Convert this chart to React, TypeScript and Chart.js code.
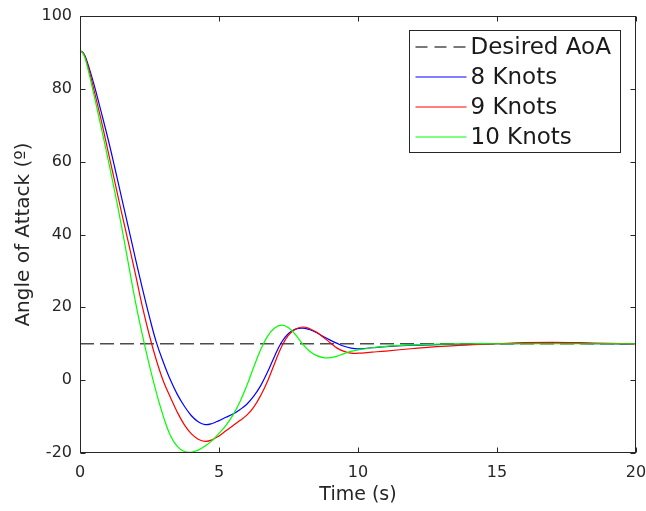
import { useEffect, useRef } from 'react';
import { Chart, registerables } from 'chart.js';

Chart.register(...registerables);

const timeS = [0, 0.125, 0.25, 0.5, 0.75, 1, 1.25, 1.5, 1.75, 2, 2.25, 2.5, 2.75, 3, 3.25, 3.5, 3.75, 4, 4.25, 4.5, 4.75, 5, 5.25, 5.5, 5.75, 6, 6.25, 6.5, 6.75, 7, 7.25, 7.5, 7.75, 8, 8.25, 8.5, 8.75, 9, 9.25, 9.5, 9.75, 10, 10.5, 11, 12, 13, 14, 15, 16, 17, 18, 19, 20];

const knots8 = [90.5, 89.8, 87.6, 81.3, 74, 66.5, 58.4, 50, 41.6, 33.2, 25, 17.3, 10.3, 4.9, 0.1, -3.9, -7.1, -9.7, -11.4, -12.2, -11.9, -11.1, -10.2, -9.3, -8.1, -6.6, -4.4, -1.5, 2.3, 6.6, 10.4, 12.8, 14.0, 14.3, 13.9, 13.1, 12, 11, 10.1, 9.3, 8.8, 8.6, 8.9, 9.2, 9.6, 9.8, 9.9, 10, 10.1, 10.2, 10.1, 10, 10];

const knots9 = [90.5, 89.7, 87.2, 79.8, 71.8, 63.2, 54.5, 45.9, 37.5, 28.9, 20, 12.2, 5.4, -0.3, -4.7, -8.8, -12.2, -14.7, -16.2, -16.8, -16.4, -15.3, -13.9, -12.5, -11.1, -9.6, -7.4, -4.2, -0.2, 4.6, 9.2, 12.4, 14.0, 14.6, 14.2, 13.2, 11.8, 10.3, 8.8, 7.9, 7.4, 7.4, 7.7, 8, 8.7, 9.3, 9.7, 10, 10.3, 10.4, 10.3, 10.1, 10];

const knots10 = [90.5, 89.5, 86.5, 78.4, 69.8, 61, 51.8, 42, 31.6, 21.3, 12.2, 3.9, -3.5, -10, -15.2, -18.2, -19.6, -19.8, -19.2, -18.1, -16.6, -14.6, -12.4, -9.6, -6.0, -1.5, 3.6, 8.4, 12.1, 14.3, 15.1, 14.4, 12.5, 10, 8, 6.8, 6.2, 6.2, 6.6, 7.3, 7.9, 8.3, 8.9, 9.3, 9.7, 9.9, 10, 10, 10, 10, 10, 10, 10];

const desiredAoA = 10;
const seriesLabels = ['Desired AoA', '8 Knots', '9 Knots', '10 Knots'];
const seriesColors = ['#4d4d4d', '#0000ff', '#ff0000', '#00ff00'];
const xTickStep = 5;
const yTickStep = 20;
const xRange = [0, 20];
const yRange = [-20, 100];

const FONT = '"DejaVu Sans", sans-serif';
const AXIS_COLOR = '#262626';

const toPoints = (vals: number[]) => vals.map((v, i) => ({ x: timeS[i], y: v }));

const framePlugin = {
  id: 'frameTicks',
  afterDatasetsDraw(chart: any) {
    const { ctx, chartArea: a, scales } = chart;
    const L = Math.round(a.left) + 0.5;
    const R = Math.round(a.right) - 0.5;
    const T = Math.round(a.top) + 0.5;
    const B = Math.round(a.bottom) - 0.5;
    ctx.save();
    ctx.strokeStyle = AXIS_COLOR;
    ctx.lineWidth = 1;
    ctx.strokeRect(L, T, R - L, B - T);
    const tl = 5;
    ctx.beginPath();
    for (const t of scales.x.ticks) {
      const px = Math.round(scales.x.getPixelForValue(t.value)) + 0.5;
      ctx.moveTo(px, B);
      ctx.lineTo(px, B - tl);
      ctx.moveTo(px, T);
      ctx.lineTo(px, T + tl);
    }
    for (const t of scales.y.ticks) {
      const py = Math.round(scales.y.getPixelForValue(t.value)) + 0.5;
      ctx.moveTo(L, py);
      ctx.lineTo(L + tl, py);
      ctx.moveTo(R, py);
      ctx.lineTo(R - tl, py);
    }
    ctx.stroke();
    ctx.restore();
  },
};

const legendPlugin = {
  id: 'boxLegend',
  afterDraw(chart: any) {
    const { ctx, chartArea: a } = chart;
    const right = Math.round(a.right) - 15.5;
    const left = right - 211;
    const top = Math.round(a.top) + 14.5;
    const bottom = top + 122;
    ctx.save();
    ctx.fillStyle = '#ffffff';
    ctx.fillRect(left, top, right - left, bottom - top);
    ctx.strokeStyle = AXIS_COLOR;
    ctx.lineWidth = 1;
    ctx.strokeRect(left, top, right - left, bottom - top);
    ctx.font = `23px ${FONT}`;
    ctx.textBaseline = 'middle';
    ctx.textAlign = 'left';
    seriesLabels.forEach((label, i) => {
      const y = top + 16.5 + i * 30;
      const dashed = i === 0;
      ctx.beginPath();
      ctx.strokeStyle = seriesColors[i];
      ctx.lineWidth = dashed ? 1.5 : 1.2;
      ctx.setLineDash(dashed ? [12, 7] : []);
      ctx.moveTo(left + 6, Math.round(y));
      ctx.lineTo(left + 57, Math.round(y));
      ctx.stroke();
      ctx.setLineDash([]);
      ctx.fillStyle = '#1a1a1a';
      ctx.fillText(label, left + 61, y + 1);
    });
    ctx.restore();
  },
};

export default function App() {
  const ref = useRef<HTMLCanvasElement | null>(null);
  useEffect(() => {
    if (!ref.current) return;
    const lineBase = { borderWidth: 1.2, pointRadius: 0, tension: 0.4 };
    const chart = new Chart(ref.current, {
      type: 'line',
      data: {
        datasets: [
          {
            label: seriesLabels[0],
            data: [
              { x: xRange[0], y: desiredAoA },
              { x: xRange[1], y: desiredAoA },
            ],
            borderColor: seriesColors[0],
            borderWidth: 1.5,
            borderDash: [14, 6],
            pointRadius: 0,
            order: 3,
          },
          { ...lineBase, label: seriesLabels[1], data: toPoints(knots8), borderColor: seriesColors[1], order: 2 },
          { ...lineBase, label: seriesLabels[2], data: toPoints(knots9), borderColor: seriesColors[2], order: 1 },
          { ...lineBase, label: seriesLabels[3], data: toPoints(knots10), borderColor: seriesColors[3], order: 0 },
        ],
      },
      options: {
        animation: false,
        responsive: false,
        parsing: false as any,
        layout: { padding: { top: 16, right: 10, left: 0, bottom: 0 } },
        plugins: {
          legend: { display: false },
          tooltip: { enabled: false },
        },
        scales: {
          x: {
            type: 'linear',
            min: xRange[0],
            max: xRange[1],
            grid: { display: false, drawTicks: false },
            border: { display: false },
            ticks: {
              stepSize: xTickStep,
              color: AXIS_COLOR,
              font: { family: FONT, size: 16 },
              padding: 10,
              maxRotation: 0,
            },
            title: {
              display: true,
              text: 'Time (s)',
              color: AXIS_COLOR,
              font: { family: FONT, size: 19 },
              padding: { top: 0, bottom: 5 },
            },
            afterFit: (s: any) => {
              s.height = 58;
              s.paddingLeft = 0;
              s.paddingRight = 0;
            },
          },
          y: {
            type: 'linear',
            min: yRange[0],
            max: yRange[1],
            grid: { display: false, drawTicks: false },
            border: { display: false },
            ticks: {
              stepSize: yTickStep,
              color: AXIS_COLOR,
              font: { family: FONT, size: 16 },
              padding: 8,
            },
            title: {
              display: true,
              text: 'Angle of Attack (º)',
              color: AXIS_COLOR,
              font: { family: FONT, size: 20 },
              padding: { top: 12, bottom: 0 },
            },
            afterFit: (s: any) => {
              s.width = 80;
              s.paddingTop = 0;
              s.paddingBottom = 0;
            },
          },
        },
      },
      plugins: [framePlugin, legendPlugin],
    } as any);
    return () => chart.destroy();
  }, []);
  return (
    <div style={{ position: 'absolute', left: 0, top: 0, width: 646, height: 511, background: '#fff' }}>
      <canvas ref={ref} width={646} height={511} style={{ display: 'block' }} />
    </div>
  );
}
